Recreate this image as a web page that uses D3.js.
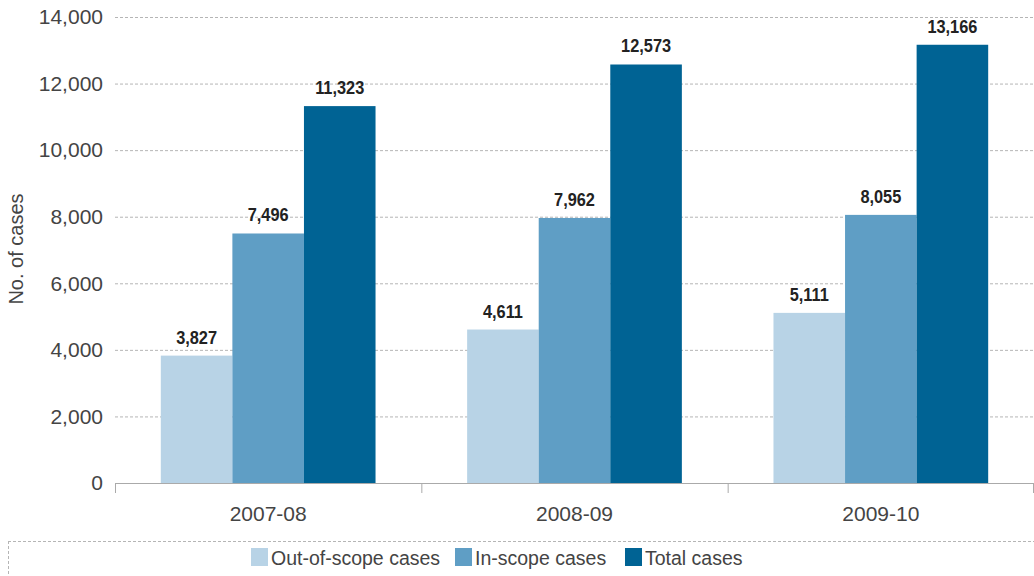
<!DOCTYPE html>
<html><head><meta charset="utf-8">
<script src="https://cdn.jsdelivr.net/npm/d3@7"></script>
<style>body{margin:0;background:#fff;} svg{display:block;}</style>
</head><body>
<svg id="c" width="1034" height="576"></svg>
<script>
const categories = ["2007-08", "2008-09", "2009-10"];
const seriesNames = ["Out-of-scope cases", "In-scope cases", "Total cases"];
const outOfScope = [3827, 4611, 5111];
const inScope = [7496, 7962, 8055];
const total = [11323, 12573, 13166];
const yTicks = [0, 2000, 4000, 6000, 8000, 10000, 12000, 14000];
const colors = ["#b8d3e6", "#5f9ec5", "#006394"];

(function () {
const seriesValues = [outOfScope, inScope, total];
const svg = d3.select("#c");
const font = "'Liberation Sans', Arial, sans-serif";
const txt = "#444";
const fs = 21;
const mLeft = 115, mRight = 1034, mTop = 17, mBottom = 483;

const x = d3.scaleBand().domain(categories).range([mLeft, mRight]).paddingInner(0).paddingOuter(0);
const x1 = d3.scaleBand().domain(seriesNames).range([0, x.bandwidth()]).paddingOuter(0.64).paddingInner(0);
const y = d3.scaleLinear().domain([0, 14000]).range([mBottom, mTop]);

svg.append("g").selectAll("line").data(yTicks.filter(d => d > 0)).join("line")
  .attr("x1", mLeft).attr("x2", mRight)
  .attr("y1", d => y(d) + 0.5).attr("y2", d => y(d) + 0.5)
  .attr("stroke", "#b5b5b5").attr("stroke-dasharray", "3,2").attr("stroke-width", 1);

svg.append("g").selectAll("text").data(yTicks).join("text")
  .attr("x", 103).attr("y", d => y(d)).attr("dy", "0.35em")
  .attr("text-anchor", "end").attr("font-family", font).attr("font-size", fs)
  .attr("fill", txt).text(d => d3.format(",")(d));

svg.append("text").attr("transform", `translate(23,${249}) rotate(-90)`)
  .attr("text-anchor", "middle").attr("font-family", font).attr("font-size", 20)
  .attr("fill", txt).text("No. of cases");

const g = svg.append("g");
categories.forEach((c, i) => {
  seriesNames.forEach((s, j) => {
    const v = seriesValues[j][i];
    g.append("rect").attr("x", x(c) + x1(s)).attr("y", y(v))
      .attr("width", x1.bandwidth()).attr("height", y(0) - y(v)).attr("fill", colors[j]);
    const t = g.append("text").attr("x", x(c) + x1(s) + x1.bandwidth() / 2).attr("y", y(v) - 12)
      .attr("text-anchor", "middle").attr("font-family", font).attr("font-weight", "bold")
      .attr("font-size", 19).attr("fill", "#222").text(d3.format(",")(v));
    const w = t.node().getComputedTextLength();
    t.attr("textLength", w * 0.86).attr("lengthAdjust", "spacingAndGlyphs");
  });
});

const xAxis = svg.append("g");
xAxis.append("line").attr("x1", mLeft + 0.5).attr("x2", mRight).attr("y1", mBottom + 0.5).attr("y2", mBottom + 0.5)
  .attr("stroke", "#aaa");
const tickXs = categories.map(c => x(c)).concat([x(categories[categories.length - 1]) + x.bandwidth()]);
xAxis.selectAll("line.t").data(tickXs).join("line").attr("class", "t")
  .attr("x1", d => Math.min(d, mRight - 1) + 0.5).attr("x2", d => Math.min(d, mRight - 1) + 0.5)
  .attr("y1", mBottom).attr("y2", mBottom + 10).attr("stroke", "#aaa");
xAxis.selectAll("text").data(categories).join("text")
  .attr("x", d => x(d) + x.bandwidth() / 2).attr("y", 514).attr("dy", "0.35em")
  .attr("text-anchor", "middle").attr("font-family", font).attr("font-size", fs)
  .attr("fill", txt).text(d => d);

svg.append("line").attr("x1", 8).attr("x2", 1034).attr("y1", 541.5).attr("y2", 541.5)
  .attr("stroke", "#b5b5b5").attr("stroke-dasharray", "3,2");
svg.append("line").attr("x1", 8.5).attr("x2", 8.5).attr("y1", 541).attr("y2", 576)
  .attr("stroke", "#b5b5b5").attr("stroke-dasharray", "3,2");

const legendX = [251, 455, 625];
seriesNames.forEach((s, j) => {
  svg.append("rect").attr("x", legendX[j]).attr("y", 548).attr("width", 17).attr("height", 18).attr("fill", colors[j]);
  svg.append("text").attr("x", legendX[j] + 20).attr("y", 558).attr("dy", "0.35em")
    .attr("font-family", font).attr("font-size", 19.5).attr("fill", txt).text(s);
});
})();
</script>
</body></html>
